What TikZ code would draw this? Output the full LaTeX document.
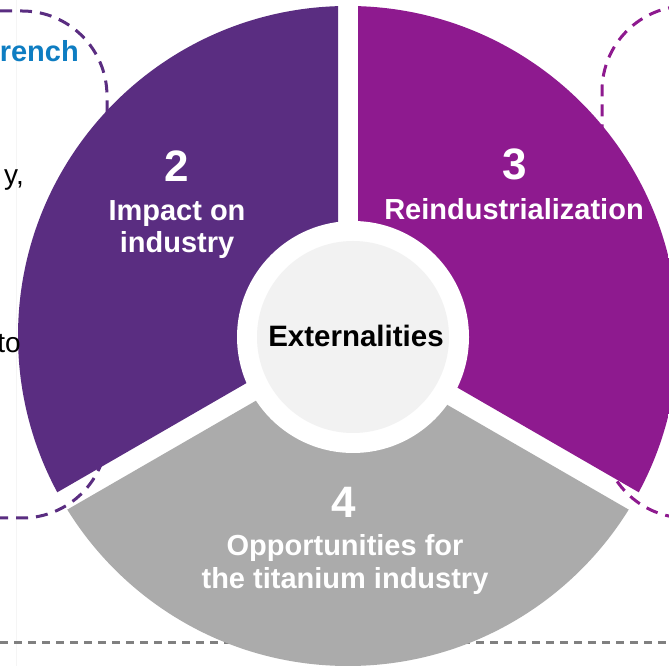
\documentclass[tikz,border=0pt]{standalone}
\usepackage{fontspec}
\setmainfont{Liberation Sans}
\usetikzlibrary{calc}
\definecolor{pdark}{RGB}{90,45,129}
\definecolor{pmag}{RGB}{142,26,143}
\definecolor{pgray}{RGB}{171,171,171}
\definecolor{plight}{RGB}{242,242,242}
\definecolor{pblue}{RGB}{14,125,194}
\definecolor{dgray}{RGB}{128,128,128}
\begin{document}
\begin{tikzpicture}[x=1pt,y=1pt,
  bigtxt/.style={text=white,font=\bfseries\fontsize{29}{32}\selectfont,inner sep=0pt,anchor=base},
  numtxt/.style={text=white,font=\bfseries\fontsize{44}{48}\selectfont,inner sep=0pt,anchor=base},
  sidetxt/.style={text=black,font=\fontsize{28}{32}\selectfont,inner sep=0pt,anchor=base east},
  boxdash/.style={line width=3pt,dash pattern=on 12pt off 8pt},
]
\useasboundingbox (0,0) rectangle (669,666);
\fill[white] (0,0) rectangle (669,666);
\draw[gray!8,line width=1pt] (16,0) -- (16,666);
% dashed boxes behind the wheel
\draw[boxdash,pdark,rounded corners=85pt] (-300,655) -- (107,655) -- (107,148) -- (-300,148);
\draw[boxdash,pmag,rounded corners=85pt] (1000,660) -- (602,660) -- (602,148) -- (1000,148);
\draw[dgray,line width=3pt,dash pattern=on 8pt off 6pt] (0,23) -- (669,23);
% wheel
\coordinate (C) at (348,330);
\coordinate (A2) at ($(C)+(150:11.547pt)$);
\coordinate (A3) at ($(C)+(30:11.547pt)$);
\coordinate (A4) at ($(C)+(270:11.547pt)$);
\begin{scope}
\clip (C) circle (330pt);
\fill[pdark] (A2) -- ($(A2)+(90:900pt)$) -- ($(A2)+(150:900pt)$) -- ($(A2)+(210:900pt)$) -- cycle;
\fill[pmag] (A3) -- ($(A3)+(90:900pt)$) -- ($(A3)+(30:900pt)$) -- ($(A3)+(-30:900pt)$) -- cycle;
\fill[pgray] (A4) -- ($(A4)+(210:900pt)$) -- ($(A4)+(270:900pt)$) -- ($(A4)+(330:900pt)$) -- cycle;
\end{scope}
\coordinate (H) at (353,329);
\fill[white] (H) circle (116pt);
\fill[plight] (H) circle (96pt);
% texts
\node[numtxt] (n2) at (177,484) {2};
\node[bigtxt] (t2a) at (177,445) {Impact on};
\node[bigtxt] (t2b) at (177,413) {industry};
\node[numtxt] (n3) at (515,486) {3};
\node[bigtxt] (t3) at (514,446) {Reindustrialization};
\node[numtxt] (n4) at (344,148) {4};
\node[bigtxt] (t4a) at (345,110) {Opportunities for};
\node[bigtxt] (t4b) at (345,77) {the titanium industry};
\node[bigtxt,text=black,font=\bfseries\fontsize{29.5}{32}\selectfont] (ext) at (356,319) {Externalities};
\node[bigtxt,text=pblue,anchor=base east] (fr) at (79,604) {rench};
\node[sidetxt] (ly) at (24,481) {y,};
\node[sidetxt] (lt) at (21,313) {to};
\end{tikzpicture}
\end{document}
